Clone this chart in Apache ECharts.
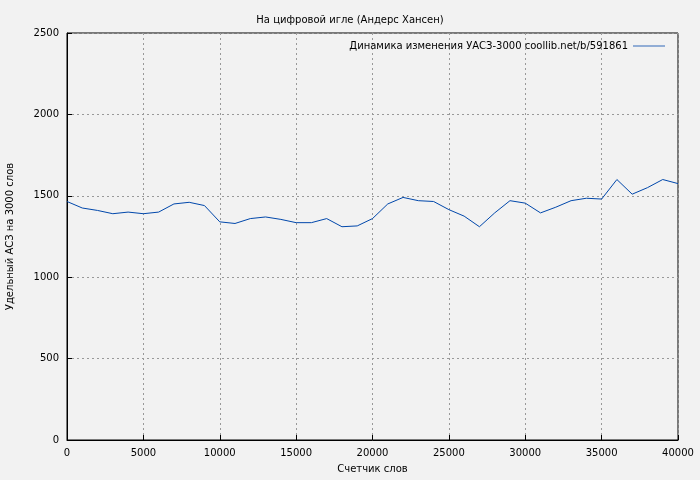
<!DOCTYPE html>
<html><head><meta charset="utf-8">
<script src="https://cdn.jsdelivr.net/npm/echarts@6/dist/echarts.min.js"></script>
</head><body style="margin:0;background:#f2f2f2">
<div id="chart" style="width:700px;height:480px"></div>
<script>
var words = [0,1000,2000,3000,4000,5000,6000,7000,8000,9000,10000,11000,12000,13000,14000,15000,16000,17000,18000,19000,20000,
  21000,22000,23000,24000,25000,26000,27000,28000,29000,30000,31000,32000,33000,34000,35000,36000,37000,38000,39000,40000];
var uasz = [1465,1425,1410,1390,1400,1390,1400,1450,1460,1440,1340,1330,1360,1370,1355,1335,1335,1360,1310,1315,1360,
  1450,1490,1470,1465,1415,1375,1310,1395,1470,1455,1395,1430,1470,1485,1480,1600,1510,1550,1600,1575];
var seriesName = 'Динамика изменения УАСЗ-3000 coollib.net/b/591861';

var chart = echarts.init(document.getElementById('chart'));
var font = 'DejaVu Sans';
var plain = function (v) { return String(v); };
chart.setOption({
  backgroundColor: '#f2f2f2',
  animation: false,
  textStyle: {fontFamily: font},
  title: {text: 'На цифровой игле (Андерс Хансен)', left: 'center', top: 10,
    textStyle: {fontSize: 10, fontWeight: 'normal', color: '#000', fontFamily: font}},
  legend: {right: 30, top: 36, icon: 'path://M0,0H40V1H0Z', itemWidth: 32, itemHeight: 1, align: 'right',
    textStyle: {fontSize: 10, color: '#000', fontFamily: font}},
  grid: {left: 67, right: 22, top: 33, bottom: 40, outerBoundsMode: 'none', show: true, borderColor: '#000', borderWidth: 1},
  xAxis: {type: 'value', min: 0, max: 40000, interval: 5000, name: 'Счетчик слов', nameLocation: 'middle', nameGap: 24,
    nameTextStyle: {fontSize: 10, color: '#000'},
    axisLine: {lineStyle: {color: '#000'}}, axisTick: {inside: true, lineStyle: {color: '#000'}},
    axisLabel: {fontSize: 10, color: '#000', formatter: plain},
    splitLine: {lineStyle: {type: [2, 3], color: '#999'}}},
  yAxis: {type: 'value', min: 0, max: 2500, interval: 500, name: 'Удельный АСЗ на 3000 слов', nameLocation: 'middle', nameGap: 52,
    nameTextStyle: {fontSize: 10, color: '#000'},
    axisLine: {show: true, lineStyle: {color: '#000'}}, axisTick: {show: true, inside: true, lineStyle: {color: '#000'}},
    axisLabel: {fontSize: 10, color: '#000', formatter: plain},
    splitLine: {lineStyle: {type: [2, 3], color: '#999'}}},
  series: [{name: seriesName, type: 'line', showSymbol: false, color: '#0047ab',
    lineStyle: {width: 1}, data: words.map(function (w, i) { return [w, uasz[i]]; })}]
});
</script>
</body></html>
